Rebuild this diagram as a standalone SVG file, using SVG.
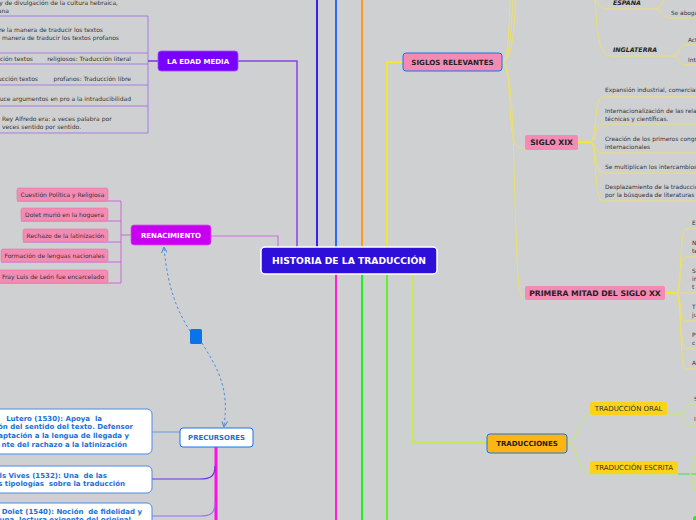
<svg xmlns="http://www.w3.org/2000/svg" width="696" height="520" viewBox="0 0 696 520">
<defs>
<style>
.bold{font-family:"DejaVu Sans",Verdana,sans-serif;font-weight:bold}
.txt{font-family:"DejaVu Sans",Verdana,sans-serif;fill:#333}
.c{fill:none}
.pk{fill:#f38bb4;stroke:#e07aa2;stroke-width:0.6}
.ylw{fill:none;stroke:#ece16a;stroke-width:1}
.lut{font-family:"DejaVu Sans",Verdana,sans-serif;font-weight:bold;fill:#1a6fd8;font-size:7px;white-space:pre}
</style>
<marker id="arr" viewBox="0 0 6 6" refX="5" refY="3" markerWidth="6" markerHeight="6" orient="auto">
<path d="M0,0 L6,3 L0,6" fill="none" stroke="#4a8ae0" stroke-width="1"/>
</marker>
</defs>
<rect width="696" height="520" fill="#cfd0d2"/>

<g id="connectors">
<path class="c" d="M210,236 L278,236 L278,247" stroke="#d070e0" stroke-width="1.2"/>
<path class="c" d="M238,61 L297,61 L297,247" stroke="#8a40e8" stroke-width="1.5"/>
<path class="c" d="M317,0 L317,247" stroke="#3a20f0" stroke-width="2"/>
<path class="c" d="M336,0 L336,247" stroke="#2a6af8" stroke-width="2"/>
<path class="c" d="M362,0 L362,247" stroke="#ff9a1a" stroke-width="2"/>
<path class="c" d="M403,62 L387,62 L387,247" stroke="#f2e634" stroke-width="2"/>
<path class="c" d="M336,274 L336,520" stroke="#ff20d0" stroke-width="2"/>
<path class="c" d="M362,274 L362,520" stroke="#20f020" stroke-width="2"/>
<path class="c" d="M387,274 L387,520" stroke="#60f030" stroke-width="2"/>
<path class="c" d="M413,274 L413,443 L487,443" stroke="#c8f030" stroke-width="1.5"/>

<g stroke="#a57be8" stroke-width="1" fill="none">
<path d="M0,16 L148,16 L148,133 L0,133"/>
<path d="M0,53 L148,53"/>
<path d="M0,64 L148,64"/>
<path d="M0,85 L148,85"/>
<path d="M0,106 L148,106"/>
</g>
<path class="c" d="M148,61 L158,61" stroke="#7a2ff0" stroke-width="1.5"/>

<g stroke="#cc66dd" stroke-width="1" fill="none">
<path d="M17,201 L121,201"/>
<path d="M21,221 L121,221"/>
<path d="M23,242 L121,242"/>
<path d="M1,262 L121,262"/>
<path d="M0,283 L121,283"/>
<path d="M121,201 L121,283"/>
<path d="M121,235 L131,235"/>
</g>

<path class="c" d="M190,331 C178,312 168,290 164,248" stroke="#4a8ae0" stroke-width="1" stroke-dasharray="2.5,2.5" marker-end="url(#arr)"/>
<path class="c" d="M202,343 C215,365 230,385 224,426" stroke="#4a8ae0" stroke-width="1" stroke-dasharray="2.5,2.5" marker-end="url(#arr)"/>

<path class="c" d="M216,447 L216,520" stroke="#ff10e0" stroke-width="3"/>
<path class="c" d="M152,432 L180,432" stroke="#6a9ae0" stroke-width="1"/>
<path class="c" d="M215,466 C215,476 211,479 200,479 L152,479" stroke="#6a30e0" stroke-width="1.2"/>
<path class="c" d="M215,503 C215,513 211,516 200,516 L152,516" stroke="#a070f0" stroke-width="1.2"/>

<path class="ylw" d="M502,62 C508,62 509,30 510,0"/>
<path class="ylw" d="M502,62 C510,62 511,30 513,0"/>
<path class="ylw" d="M502,62 C512,62 514,30 516,0"/>
<path class="ylw" d="M502,62 C510,62 509,110 512,132 C514,146 518,149 527,149"/>
<path class="ylw" d="M502,62 C514,62 513,160 516,230 C518,285 518,299 527,299"/>
<path class="ylw" d="M597,0 C598,5 600,9 607,9 L655,9"/>
<path class="ylw" d="M655,9 C662,9 662,0 668,-3"/>
<path class="ylw" d="M655,9 C662,9 662,18 670,18 L696,18"/>
<path class="ylw" d="M595,0 C597,30 598,56 612,56 L672,56"/>
<path class="ylw" d="M672,56 C680,56 678,45 686,45 L696,45"/>
<path class="ylw" d="M672,56 C680,56 678,65 686,65 L696,65"/>
<path class="c" d="M578,142 L590,142" stroke="#f2e634" stroke-width="2.5"/>
<path class="ylw" d="M590,142 C597,142 594,97 602,97 L696,97"/>
<path class="ylw" d="M590,142 C597,142 594,124 602,124 L696,124"/>
<path class="ylw" d="M590,142 C597,142 594,153 602,153 L696,153"/>
<path class="ylw" d="M590,142 C597,142 594,173 602,173 L696,173"/>
<path class="ylw" d="M590,142 C597,142 594,201 602,201 L696,201"/>
<path class="c" d="M665,293 L676,293" stroke="#f2e634" stroke-width="2.5"/>
<path class="ylw" d="M676,293 C682,293 679,229 686,229 L696,229"/>
<path class="ylw" d="M676,293 C682,293 679,257 686,257 L696,257"/>
<path class="ylw" d="M676,293 C682,293 680,293 686,293 L696,293"/>
<path class="ylw" d="M676,293 C682,293 679,321 686,321 L696,321"/>
<path class="ylw" d="M676,293 C682,293 679,349 686,349 L696,349"/>
<path class="ylw" d="M676,293 C682,293 679,369 686,369 L696,369"/>
<path class="c" d="M567,443 C579,443 577,415 590,415 L678,415" stroke="#c0ec70" stroke-width="1"/>
<path class="c" d="M567,443 C579,443 577,474 590,474 L678,474" stroke="#c0ec70" stroke-width="1"/>
<path class="c" d="M678,415 C685,415 684,404 692,404 L696,404" stroke="#c0ec70" stroke-width="1"/>
<path class="c" d="M678,415 C685,415 684,426 692,426 L696,426" stroke="#c0ec70" stroke-width="1"/>
<path class="c" d="M678,474 L696,474" stroke="#44e044" stroke-width="1"/>
<path class="c" d="M690,474 C693,474 692,460 696,455" stroke="#c0ec70" stroke-width="1"/>
<path class="c" d="M690,474 C693,474 692,487 696,492" stroke="#c0ec70" stroke-width="1"/>
</g>

<g id="central">
<rect x="261" y="247" width="176" height="27" rx="4" fill="#2e0fd9" stroke="#ffffff" stroke-width="1.5"/>
<text x="349" y="264.2" class="bold" font-size="9.2" fill="#ffffff" text-anchor="middle">HISTORIA DE LA TRADUCCIÓN</text>
</g>

<g id="edad-media">
<rect x="158" y="51" width="80" height="20" rx="3" fill="#7a00ff" stroke="#9a50ff" stroke-width="0.8"/>
<text x="198" y="63.5" class="bold" font-size="7" fill="#ffffff" text-anchor="middle">LA EDAD MEDIA</text>
</g>
<g id="edad-media-items" class="txt" font-size="6">
<text x="118" y="4.5" text-anchor="end">y de divulgación de la cultura hebraica,</text>
<text x="9" y="12.5" text-anchor="end">ana</text>
<text x="103" y="32" text-anchor="end">re la manera de traducir los textos</text>
<text x="119" y="40" text-anchor="end">manera de traducir los textos profanos</text>
<text x="33" y="60.5" text-anchor="end">cción textos</text>
<text x="131" y="60.5" text-anchor="end">religiosos: Traducción literal</text>
<text x="38" y="81" text-anchor="end">ucción textos</text>
<text x="131" y="81" text-anchor="end">profanos: Traducción libre</text>
<text x="131" y="101" text-anchor="end">uce argumentos en pro a la intraducibilidad</text>
<text x="2" y="121">Rey Alfredo era: a veces palabra por</text>
<text x="2" y="129">veces sentido por sentido.</text>
</g>

<g id="renacimiento">
<rect x="131" y="225" width="80" height="20" rx="3" fill="#c800f0" stroke="#d850f5" stroke-width="0.8"/>
<text x="171" y="237.5" class="bold" font-size="7" fill="#ffffff" text-anchor="middle">RENACIMIENTO</text>
</g>
<g id="renacimiento-items" class="txt" font-size="6">
<rect class="pk" x="17" y="188" width="91" height="13" rx="2"/>
<text x="62.5" y="196.8" text-anchor="middle">Cuestión Política y Religiosa</text>
<rect class="pk" x="21" y="208" width="87" height="13" rx="2"/>
<text x="64.5" y="216.8" text-anchor="middle">Dolet murió en la hoguera</text>
<rect class="pk" x="23" y="229" width="85" height="13" rx="2"/>
<text x="65.5" y="237.8" text-anchor="middle">Rechazo de la latinización</text>
<rect class="pk" x="1" y="249" width="107" height="13" rx="2"/>
<text x="54.5" y="257.8" text-anchor="middle">Formación de lenguas nacionales</text>
<rect class="pk" x="-2" y="270" width="110" height="13" rx="2"/>
<text x="53" y="278.8" text-anchor="middle">Fray Luis de León fue encarcelado</text>
</g>

<g id="relation-handle">
<rect x="190" y="329" width="12" height="15" rx="1.5" fill="#0a73e8"/>
</g>

<g id="precursores">
<rect x="180" y="428" width="73" height="19" rx="3" fill="#ffffff" stroke="#1a73e8" stroke-width="1"/>
<text x="216.5" y="440" class="bold" font-size="6.9" fill="#1a6fd8" text-anchor="middle">PRECURSORES</text>
</g>
<g id="lutero">
<rect x="-6" y="409" width="158" height="45" rx="5" fill="#ffffff" stroke="#4a8ae8" stroke-width="1"/>
<text class="lut" x="102" y="420.5" text-anchor="end">Lutero (1530): Apoya  la</text>
<text class="lut" x="133" y="429.2" text-anchor="end">ón del sentido del texto. Defensor</text>
<text class="lut" x="129" y="437.8" text-anchor="end">aptación a la lengua de llegada y</text>
<text class="lut" x="127" y="446.6" text-anchor="end">nte del rachazo a la latinización</text>
</g>
<g id="vives">
<rect x="-6" y="466" width="158" height="27" rx="5" fill="#ffffff" stroke="#4a8ae8" stroke-width="1"/>
<text class="lut" x="107" y="477.6" text-anchor="end">ls Vives (1532): Una  de las</text>
<text class="lut" x="125" y="485.8" text-anchor="end">s tipologías  sobre la traducción</text>
</g>
<g id="dolet">
<rect x="-6" y="503" width="158" height="30" rx="5" fill="#ffffff" stroke="#4a8ae8" stroke-width="1"/>
<text class="lut" x="142" y="513.6" text-anchor="end">Dolet (1540): Noción  de fidelidad y</text>
<text class="lut" x="131" y="522.4" text-anchor="end">una  lectura exigente del original</text>
</g>

<g id="siglos-relevantes">
<rect x="403" y="53" width="99" height="18" rx="3" fill="#f38bb4" stroke="#1a73e8" stroke-width="1"/>
<text x="452.5" y="64.7" class="bold" font-size="7.1" fill="#222" text-anchor="middle">SIGLOS RELEVANTES</text>
</g>
<g id="espana">
<text x="613" y="5" class="bold" font-size="6.3" font-style="italic" fill="#222">ESPAÑA</text>
<text x="671" y="15" class="txt" font-size="5.8">Se abogaba</text>
</g>
<g id="inglaterra">
<text x="613" y="52" class="bold" font-size="6.3" font-style="italic" fill="#222">INGLATERRA</text>
<text x="688" y="42" class="txt" font-size="5.8">Acti</text>
<text x="688" y="62" class="txt" font-size="5.8">Inte</text>
</g>

<g id="siglo-xix">
<rect x="525" y="135" width="53" height="15" rx="2" fill="#f38bb4"/>
<text x="551.5" y="145.3" class="bold" font-size="7.6" fill="#222" text-anchor="middle">SIGLO XIX</text>
</g>
<g id="siglo-xix-items" class="txt" font-size="5.9">
<text x="605" y="92">Expansión industrial, comercial</text>
<text x="605" y="113">Internacionalización de las relaciones</text>
<text x="605" y="121">técnicas y científicas.</text>
<text x="605" y="141">Creación de los primeros congresos</text>
<text x="605" y="149">internacionales</text>
<text x="605" y="169">Se multiplican los intercambios</text>
<text x="605" y="189">Desplazamiento de la traducción</text>
<text x="605" y="197">por la búsqueda de literaturas</text>
</g>

<g id="primera-mitad">
<rect x="525" y="286" width="140" height="14" rx="2" fill="#f38bb4"/>
<text x="595" y="296" class="bold" font-size="7.7" fill="#222" text-anchor="middle">PRIMERA MITAD DEL SIGLO XX</text>
</g>
<g id="primera-mitad-items" class="txt" font-size="5.9">
<text x="692" y="225">E</text>
<text x="692" y="245">N</text>
<text x="692" y="253">te</text>
<text x="692" y="273">S</text>
<text x="692" y="281">in</text>
<text x="692" y="289">t</text>
<text x="692" y="309">T</text>
<text x="692" y="317">ju</text>
<text x="692" y="337">P</text>
<text x="692" y="345">c</text>
<text x="692" y="365">A</text>
</g>

<g id="traducciones">
<rect x="487" y="434" width="80" height="19" rx="3" fill="#fdb515" stroke="#1a73e8" stroke-width="1"/>
<text x="527" y="446" class="bold" font-size="7" fill="#222" text-anchor="middle">TRADUCCIONES</text>
</g>
<g id="traduccion-oral">
<rect x="590" y="402" width="77" height="13" rx="2" fill="#fdd31a"/>
<text x="628.5" y="411" class="txt" font-size="7" fill="#222" text-anchor="middle">TRADUCCIÓN ORAL</text>
<text x="694" y="401" class="txt" font-size="5.8">S</text>
<text x="694" y="421" class="txt" font-size="5.8">I</text>
</g>
<g id="traduccion-escrita">
<rect x="590" y="461" width="88" height="13" rx="2" fill="#fdd31a"/>
<text x="634" y="470" class="txt" font-size="7" fill="#222" text-anchor="middle">TRADUCCIÓN ESCRITA</text>
</g>
<circle cx="696" cy="519" r="3" fill="#30e030"/>
</svg>
